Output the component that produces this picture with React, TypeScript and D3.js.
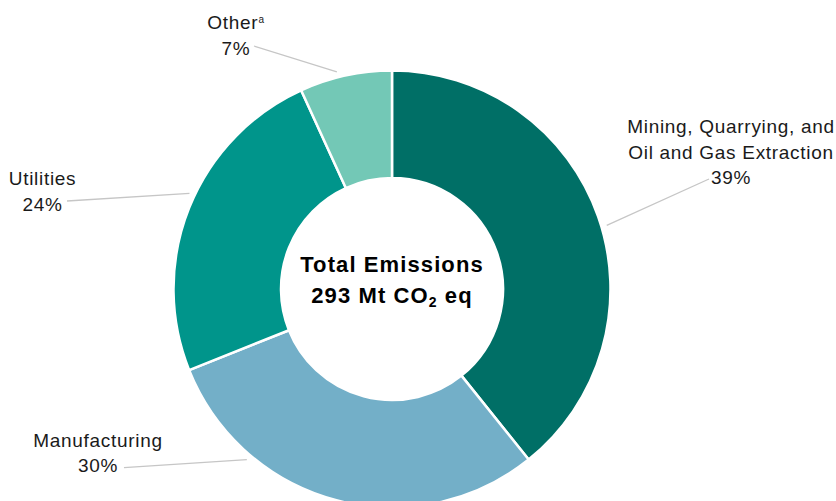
import React from "react";
import * as d3 from "d3";

// ---- data ----
const categories = [
  "Mining, Quarrying, and Oil and Gas Extraction",
  "Manufacturing",
  "Utilities",
  "Other",
];
const labelLines = [
  ["Mining, Quarrying, and", "Oil and Gas Extraction"],
  ["Manufacturing"],
  ["Utilities"],
  ["Other"],
];
const labelSup = ["", "", "", "a"];
const values = [115, 87, 71, 20]; // Mt CO2 eq
const colors = ["#006f66", "#73afc8", "#00958b", "#73c8b6"];
const centerTitle = "Total Emissions";
const totalValue = 293;

// ---- layout ----
const W = 836;
const H = 501;
const cx = 392;
const cy = 289;
const outerR = 218.5;
const innerR = 111;
const connectorR = 224;
const lineH = 25.5;
const labelLayout = [
  { x: 731, y: 133.3, sx: 709, sy: 179, t: 0.52 },
  { x: 98, y: 446.7, sx: 124, sy: 467.7, t: 0.74 },
  { x: 42.5, y: 185, sx: 67, sy: 201, t: 0.54 },
  { x: 236, y: 29.3, sx: 254, sy: 46, t: 0.42 },
];

const FONT = "'Liberation Sans', Arial, Helvetica, sans-serif";

export default function App() {
  const data = categories.map((c, i) => ({ c, v: values[i], i }));
  const sum = d3.sum(values);
  const pie = d3
    .pie<any>()
    .sort(null)
    .value((d) => d.v)
    .startAngle(0)
    .endAngle(2 * Math.PI);
  const arcs = pie(data);
  const arc = d3.arc<any>().innerRadius(innerR).outerRadius(outerR);

  return (
    <div style={{ position: "fixed", left: 0, top: 0, width: W, height: H, background: "#fff" }}>
      <svg width={W} height={H} style={{ display: "block" }}>
        <g transform={`translate(${cx},${cy})`}>
          {arcs.map((a, i) => (
            <path
              key={i}
              d={arc(a) as string}
              fill={colors[i]}
              stroke="#ffffff"
              strokeWidth={2.5}
              strokeLinejoin="round"
            />
          ))}
        </g>
        {arcs.map((a, i) => {
          const L = labelLayout[i];
          const ang = a.startAngle + (a.endAngle - a.startAngle) * L.t;
          const ex = cx + connectorR * Math.sin(ang);
          const ey = cy - connectorR * Math.cos(ang);
          return (
            <line
              key={"l" + i}
              x1={L.sx}
              y1={L.sy}
              x2={ex}
              y2={ey}
              stroke="#c6c6c6"
              strokeWidth={1.3}
            />
          );
        })}
        {arcs.map((a, i) => {
          const L = labelLayout[i];
          const lines = labelLines[i];
          const pct = Math.round((values[i] / sum) * 100) + "%";
          return (
            <text
              key={"t" + i}
              fontFamily={FONT}
              fontSize={19}
              letterSpacing={0.7}
              fill="#1a1a1a"
              textAnchor="middle"
            >
              {lines.map((ln, j) => (
                <tspan key={j} x={L.x} y={L.y + j * lineH}>
                  {ln}
                  {j === lines.length - 1 && labelSup[i] ? (
                    <tspan fontSize={10} dy={-6}>
                      {labelSup[i]}
                    </tspan>
                  ) : null}
                </tspan>
              ))}
              <tspan x={L.x} y={L.y + lines.length * lineH}>
                {pct}
              </tspan>
            </text>
          );
        })}
        <text
          fontFamily={FONT}
          fontWeight="bold"
          fontSize={22}
          letterSpacing={1.1}
          fill="#000"
          textAnchor="middle"
        >
          <tspan x={cx} y={272.3}>
            {centerTitle}
          </tspan>
          <tspan x={cx} y={302.8}>
            {`${totalValue} Mt CO`}
            <tspan fontSize={14} dy={4}>
              2
            </tspan>
            <tspan dy={-4}>{" eq"}</tspan>
          </tspan>
        </text>
      </svg>
    </div>
  );
}
